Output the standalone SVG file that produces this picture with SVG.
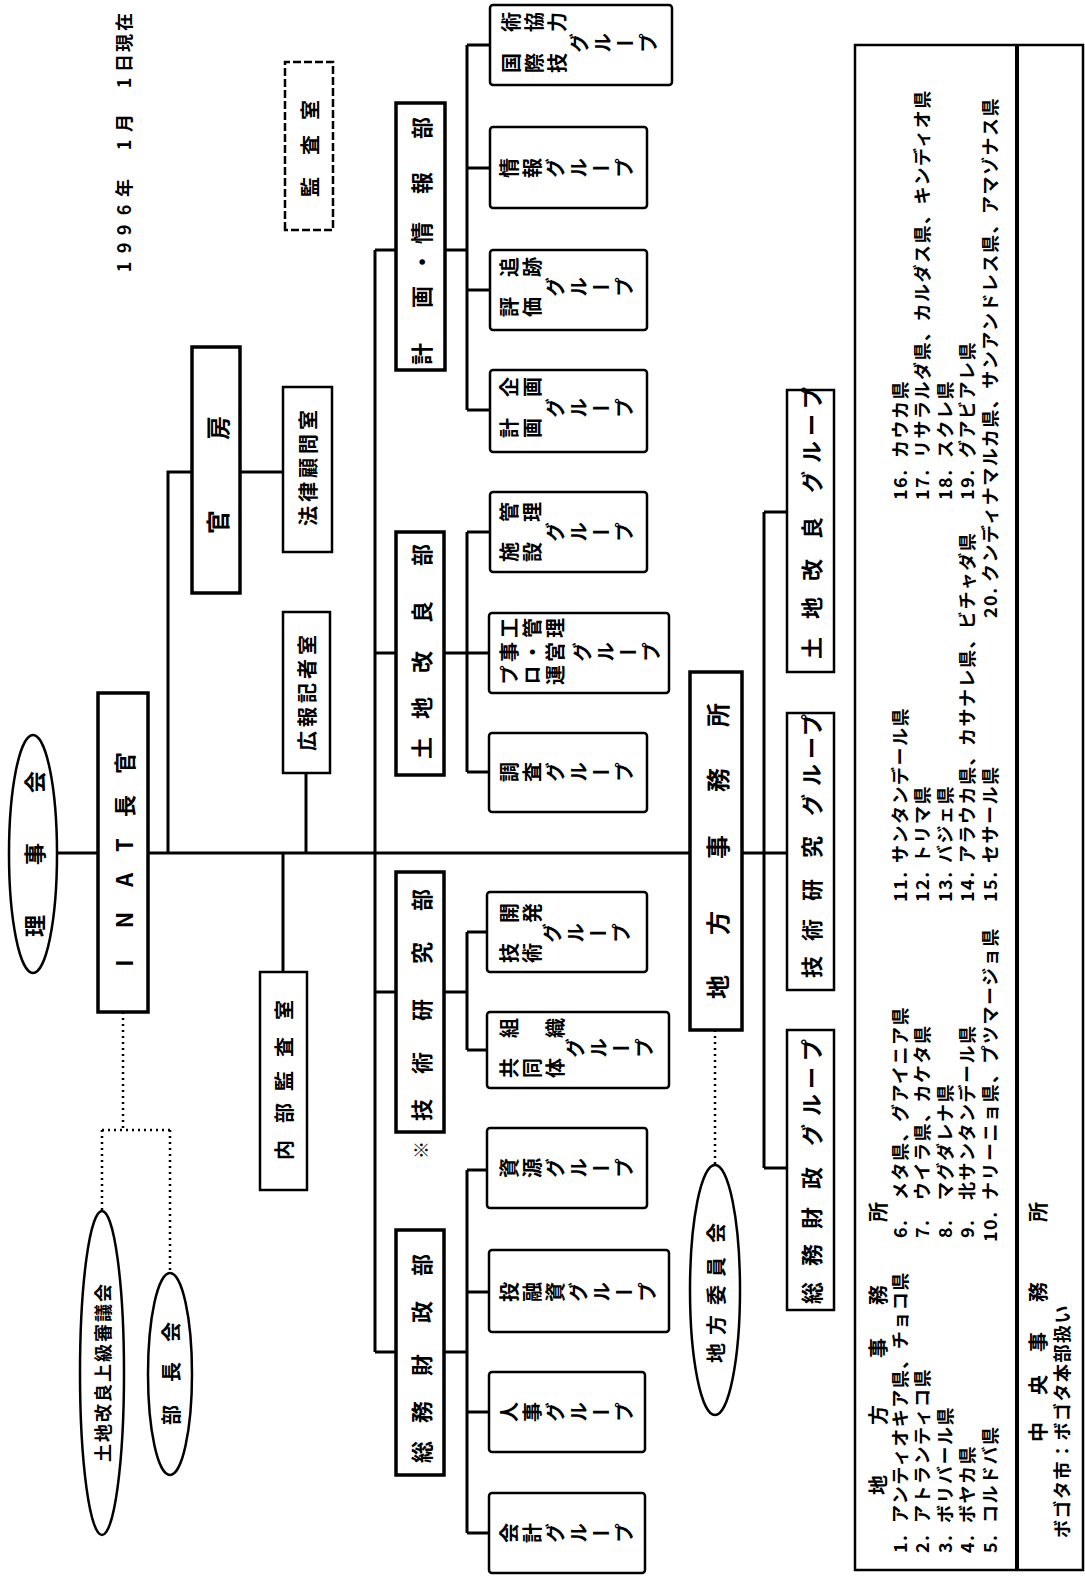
<svg xmlns="http://www.w3.org/2000/svg" width="1085" height="1578" viewBox="0 0 1085 1578">
<style>
text{font-family:"Noto Sans CJK JP","Noto Sans CJK SC",sans-serif;font-weight:700;fill:#000}
.c{text-anchor:middle;dominant-baseline:central}
.v{writing-mode:vertical-rl;font-size:20px;letter-spacing:3px}
.bx{fill:#fff;stroke:#000;stroke-width:2.5}
.tk{fill:#fff;stroke:#000;stroke-width:3.5}
.ln{fill:none;stroke:#000;stroke-width:3}
.dt{fill:none;stroke:#000;stroke-width:2.5;stroke-dasharray:2 4}
.lg{font-size:18px;letter-spacing:1.5px;dominant-baseline:central}
.f18{font-size:18px}.f20{font-size:20px}.f22{font-size:22px}.f24{font-size:24px}
</style>
<rect width="1085" height="1578" fill="#fff"/>
<g transform="matrix(0,-1,1,0,0,1578)">
<g id="connectors">
<path class="ln" d="M725 57V98M725 148V690M725 168H1106V192M1106 240V283M725 306H805M725 283H606M226 375H1328M1328 375V397M1328 445V467M925 375V397M925 445V467M586 375V397M586 445V467M226 375V397M226 445V467M1168 467H1533M806 467H1046M528 467H646M45 467H408M1533 467V490M1410 467V490M1288 467V490M1168 467V490M1046 467V490M925 467V489M806 467V489M646 467V487M528 467V487M408 467V487M286 467V489M166 467V489M45 467V489M725 742V764M410 764H1066M1066 764V787M725 764V787M410 764V787"/>
<path class="dt" d="M548 715H413M566 123H448M448 102V170M448 102H367M448 170H305"/>
</g>
<text id="date" class="c f18" x="1311 1330 1348 1368 1390 1412 1433 1455 1475 1495 1515 1535 1556" y="123">1996年 1月 1日現在</text>
<g id="kansa"><rect class="bx" x="1348" y="285" width="168" height="48" stroke-dasharray="8 3"/><text class="c f20" x="1391 1433 1468" y="309">監査室</text></g>
<g id="rijikai"><ellipse class="bx" cx="724" cy="33" rx="119" ry="24"/><text class="c f22" x="652 724 796" y="33">理事会</text></g>
<g id="chokan"><rect class="tk" x="566" y="98" width="319" height="50"/><text class="c f22" x="615 658 698 733 772 815" y="123">INAT長官</text></g>
<g id="kanbo"><rect class="tk" x="985" y="192" width="246" height="48"/><text class="c f24" x="1056 1150" y="216">官房</text></g>
<g id="horitsu"><rect class="bx" x="1026" y="283" width="165" height="49"/><text class="c f20" x="1062 1086 1110 1134 1158" y="307">法律顧問室</text></g>
<g id="koho"><rect class="bx" x="805" y="283" width="161" height="47"/><text class="c f20" x="837 861 885 909 933" y="306">広報記者室</text></g>
<g id="naibu"><rect class="bx" x="388" y="260" width="218" height="47"/><text class="c f20" x="428 465 497 531 568" y="283">内部監査室</text></g>
<g id="jokyu"><ellipse class="bx" cx="205" cy="102" rx="162" ry="22"/><text class="c f18" x="125 145 165 185 205 225 245 265 285" y="102">土地改良上級審議会</text></g>
<g id="buchokai"><ellipse class="bx" cx="204" cy="170" rx="101" ry="22"/><text class="c f20" x="163 206 246" y="170">部長会</text></g>
<g id="d-keikaku"><rect class="tk" x="1208" y="396" width="267" height="49"/><text class="c f22" x="1224 1281 1316 1345 1395 1450" y="420">計画・情報部</text></g>
<g id="d-tochi"><rect class="tk" x="803" y="396" width="243" height="48"/><text class="c f22" x="830 870 916 966 1023" y="420">土地改良部</text></g>
<g id="d-gijutsu"><rect class="tk" x="446" y="396" width="260" height="48"/><text class="c f22" x="468 515 568 625 678" y="420">技術研究部</text><text class="c f18" x="428" y="420">※</text></g>
<g id="d-somu"><rect class="tk" x="103" y="396" width="245" height="48"/><text class="c f22" x="126 166 213 266 313" y="420">総務財政部</text></g>
<g id="k1"><rect class="bx" x="1493" y="490" width="80" height="182" rx="3"/><text class="v" x="1515" y="501">国際技</text><text class="v" x="1556" y="501">術協力</text><text class="v" x="1535" y="569">グループ</text></g>
<g id="k2"><rect class="bx" x="1370" y="490" width="81" height="157" rx="3"/><text class="v" x="1410" y="499">情報グループ</text></g>
<g id="k3"><rect class="bx" x="1248" y="490" width="80" height="157" rx="3"/><text class="v" x="1271" y="499">評価</text><text class="v" x="1311" y="499">追跡</text><text class="v" x="1291" y="545">グループ</text></g>
<g id="k4"><rect class="bx" x="1126" y="490" width="82" height="157" rx="3"/><text class="v" x="1150" y="499">計画</text><text class="v" x="1191" y="499">企画</text><text class="v" x="1170" y="545">グループ</text></g>
<g id="t1g"><rect class="bx" x="1006" y="490" width="80" height="157" rx="3"/><text class="v" x="1026" y="499">施設</text><text class="v" x="1066" y="499">管理</text><text class="v" x="1046" y="545">グループ</text></g>
<g id="t2g"><rect class="bx" x="885" y="489" width="80" height="180" rx="3"/><text class="v" x="903" y="499">プロ運</text><text class="v" x="926" y="499">事・営</text><text class="v" x="950" y="499">工管理</text><text class="v" x="926" y="572">グループ</text></g>
<g id="t3g"><rect class="bx" x="766" y="489" width="79" height="158" rx="3"/><text class="v" x="806" y="499">調査グループ</text></g>
<g id="g1g"><rect class="bx" x="606" y="487" width="80" height="160" rx="3"/><text class="v" x="625" y="499">技術</text><text class="v" x="665" y="499">開発</text><text class="v" x="645" y="542">グループ</text></g>
<g id="g2g"><rect class="bx" x="490" y="487" width="76" height="182" rx="3"/><text class="v" x="510" y="499">共同体</text><text class="v" x="550" y="499">組　織</text><text class="v" x="530" y="565">グループ</text></g>
<g id="s1g"><rect class="bx" x="370" y="487" width="80" height="160" rx="3"/><text class="v" x="410" y="499">資源グループ</text></g>
<g id="s2g"><rect class="bx" x="246" y="489" width="82" height="180" rx="3"/><text class="v" x="286" y="499">投融資グループ</text></g>
<g id="s3g"><rect class="bx" x="126" y="489" width="80" height="156" rx="3"/><text class="v" x="166" y="499">人事グループ</text></g>
<g id="s4g"><rect class="bx" x="5" y="489" width="80" height="156" rx="3"/><text class="v" x="45" y="499">会計グループ</text></g>
<g id="chiho"><rect class="tk" x="548" y="690" width="358" height="52"/><text class="c f24" x="591 655 731 798 863" y="716">地方事務所</text></g>
<g id="iinkai"><ellipse class="bx" cx="288" cy="715" rx="125" ry="25"/><text class="c f20" x="225 253 283 311 345" y="715">地方委員会</text></g>
<g id="c-tochi"><rect class="bx" x="906" y="787" width="282" height="47"/><text class="c f22" x="930 970 1008 1050 1096 1126 1153 1180" y="810">土地改良グループ</text></g>
<g id="c-gijutsu"><rect class="bx" x="588" y="787" width="277" height="47"/><text class="c f22" x="611 648 688 731 773 803 830 853" y="810">技術研究グループ</text></g>
<g id="c-somu"><rect class="bx" x="268" y="787" width="280" height="47"/><text class="c f22" x="285 323 360 400 443 473 500 528" y="810">総務財政グループ</text></g>
<g id="legend">
<rect class="bx" x="8" y="855" width="1525" height="228" fill="none"/>
<path d="M8 1017H1533" stroke="#000" stroke-width="4"/>
<text class="c f20" x="93 163 230 283 366" y="877">地方事務所</text>
<g class="lg">
<text class="lg" x="25" y="899">1.</text><text class="lg" x="55" y="899">アンティオキア県、チョコ県</text>
<text class="lg" x="25" y="921">2.</text><text class="lg" x="55" y="921">アトランティコ県</text>
<text class="lg" x="25" y="944">3.</text><text class="lg" x="55" y="944">ボリバール県</text>
<text class="lg" x="25" y="966">4.</text><text class="lg" x="55" y="966">ボヤカ県</text>
<text class="lg" x="25" y="989">5.</text><text class="lg" x="55" y="989">コルドバ県</text>
<text class="lg" x="340" y="899">6.</text><text class="lg" x="378" y="899">メタ県、グアイニア県</text>
<text class="lg" x="340" y="921">7.</text><text class="lg" x="378" y="921">ウイラ県、カケタ県</text>
<text class="lg" x="340" y="944">8.</text><text class="lg" x="378" y="944">マグダレナ県</text>
<text class="lg" x="340" y="966">9.</text><text class="lg" x="378" y="966">北サンタンデール県</text>
<text class="lg" x="336" y="989">10.</text><text class="lg" x="378" y="989">ナリーニョ県、プツマージョ県</text>
<text class="lg" x="676" y="899">11.</text><text class="lg" x="715" y="899">サンタンデール県</text>
<text class="lg" x="676" y="921">12.</text><text class="lg" x="715" y="921">トリマ県</text>
<text class="lg" x="676" y="944">13.</text><text class="lg" x="715" y="944">バジェ県</text>
<text class="lg" x="676" y="966">14.</text><text class="lg" x="715" y="966">アラウカ県、カサナレ県、ビチャダ県</text>
<text class="lg" x="676" y="989">15.</text><text class="lg" x="715" y="989">セサール県</text>
<text class="lg" x="1078" y="899">16.</text><text class="lg" x="1120" y="899">カウカ県</text>
<text class="lg" x="1078" y="921">17.</text><text class="lg" x="1120" y="921">リサラルダ県、カルダス県、キンディオ県</text>
<text class="lg" x="1078" y="944">18.</text><text class="lg" x="1120" y="944">スクレ県</text>
<text class="lg" x="1078" y="966">19.</text><text class="lg" x="1120" y="966">グアビアレ県</text>
<text class="lg" x="960" y="989">20.</text><text class="lg" x="996" y="989">クンディナマルカ県、サンアンドレス県、アマゾナス県</text>
</g>
<text class="c f20" x="146 193 236 286 366" y="1037">中央事務所</text>
<text class="lg" x="40" y="1061">ボゴタ市：ボゴタ本部扱い</text>
</g>
</g>
</svg>
